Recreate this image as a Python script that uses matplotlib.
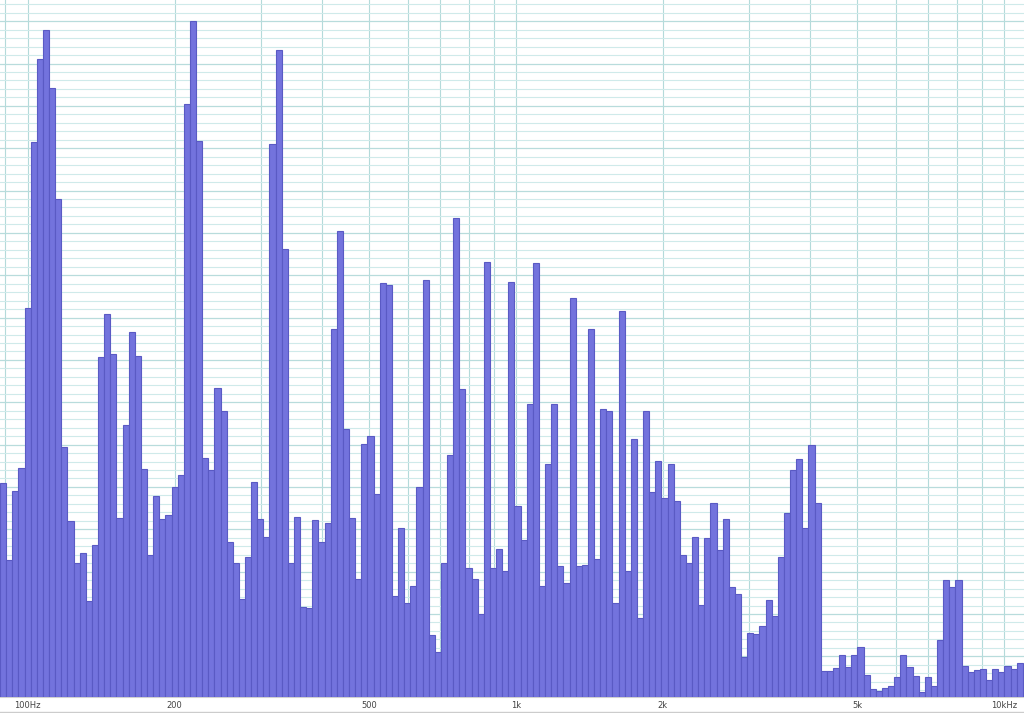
import numpy as np
import matplotlib
matplotlib.use("Agg")
import matplotlib.pyplot as plt
from matplotlib.ticker import FixedLocator, NullFormatter, MultipleLocator

# 1/24-octave bands, band index k -> centre frequency 100 * 2**(k/24) Hz
band_start = -4
levels_db = [
    -54.5, -63.6, -55.5, -52.8, -33.9, -14.3, -4.5, -1.0, -7.9, -21.0,
    -50.3, -59.0, -64.0, -62.8, -68.5, -61.8, -39.6, -34.6, -39.3, -58.7,
    -47.7, -36.7, -39.5, -52.9, -63.0, -56.1, -58.8, -58.3, -55.0, -53.6,
    -9.8, 0.0, -14.1, -51.6, -53.0, -43.3, -46.0, -61.5, -64.0, -68.2,
    -63.3, -54.4, -58.8, -60.9, -14.5, -3.4, -26.9, -64.0, -58.5, -69.2,
    -69.3, -58.9, -61.5, -59.2, -36.3, -24.8, -48.1, -58.7, -65.9, -49.9,
    -49.0, -55.8, -30.9, -31.1, -67.9, -59.8, -68.7, -66.7, -55.0, -30.6,
    -72.5, -74.5, -64.0, -51.2, -23.2, -43.4, -64.6, -65.9, -70.0, -28.4,
    -64.6, -62.3, -64.9, -30.8, -57.2, -61.3, -45.2, -28.5, -66.7, -52.3,
    -45.2, -64.3, -66.3, -32.7, -64.3, -64.2, -36.3, -63.5, -45.8, -46.0,
    -68.7, -34.2, -64.9, -49.3, -70.5, -46.0, -55.6, -51.9, -56.3, -52.3,
    -56.6, -63.0, -64.0, -60.9, -68.9, -61.0, -56.9, -62.4, -58.8, -66.8,
    -67.6, -75.1, -72.2, -72.4, -71.4, -68.3, -70.2, -63.3, -58.1, -53.0,
    -51.7, -59.8, -50.0, -56.9, -76.7, -76.7, -76.4, -74.8, -76.2, -74.8,
    -73.9, -77.2, -78.8, -79.1, -78.7, -78.5, -77.4, -74.8, -76.2, -77.3,
    -79.2, -77.4, -78.5, -73.1, -66.0, -66.8, -66.0, -76.1, -76.9, -76.6,
    -76.5, -77.8, -76.5, -76.9, -76.1, -76.5, -75.8,
]
tick_freqs = [100, 200, 500, 1000, 2000, 5000, 10000]
tick_labels = ["100Hz", "200", "500", "1k", "2k", "5k", "10kHz"]

floor_db = -79.8
top_db = 2.5
f_lo, f_hi = 87.8, 10983

k = np.arange(band_start, band_start + len(levels_db))
left = 100 * 2 ** ((k - 0.5) / 24)
right = 100 * 2 ** ((k + 0.5) / 24)
heights = np.array(levels_db) - floor_db

fig = plt.figure(figsize=(10.24, 7.13), dpi=100)
ax = fig.add_axes([0, 16 / 713, 1, 697 / 713])
ax.set_xscale("log")
ax.bar(left, heights, width=right - left, bottom=floor_db, align="edge",
       color="#7373dd", edgecolor="#5a5ac4", linewidth=0.8, zorder=3)

ax.set_xlim(f_lo, f_hi)
ax.set_ylim(floor_db, top_db)

minor = [m * d for d in (10, 100, 1000) for m in range(1, 10)] + [10000]
ax.xaxis.set_major_locator(FixedLocator(tick_freqs))
ax.xaxis.set_minor_locator(FixedLocator(minor))
ax.set_xticklabels(tick_labels)
ax.xaxis.set_minor_formatter(NullFormatter())
ax.yaxis.set_major_locator(MultipleLocator(5))
ax.yaxis.set_minor_locator(MultipleLocator(1))
ax.set_yticklabels([])

ax.grid(True, which="minor", axis="y", color="#cfeaea", linewidth=0.8, zorder=0)
ax.grid(True, which="major", axis="y", color="#b8dcdc", linewidth=0.9, zorder=0)
ax.grid(True, which="both", axis="x", color="#b4dada", linewidth=0.8, zorder=0)
ax.tick_params(axis="both", which="both", length=0)
ax.tick_params(axis="x", labelsize=6, labelcolor="#444444", pad=3)

for s in ("top", "left", "right"):
    ax.spines[s].set_visible(False)
ax.spines["bottom"].set_color("#d0d0d0")
ax.spines["bottom"].set_linewidth(0.8)

fig.add_artist(plt.Line2D([0, 1], [1.5 / 713, 1.5 / 713], color="#cccccc", linewidth=1))

fig.savefig("out.png", dpi=100, facecolor="white")
